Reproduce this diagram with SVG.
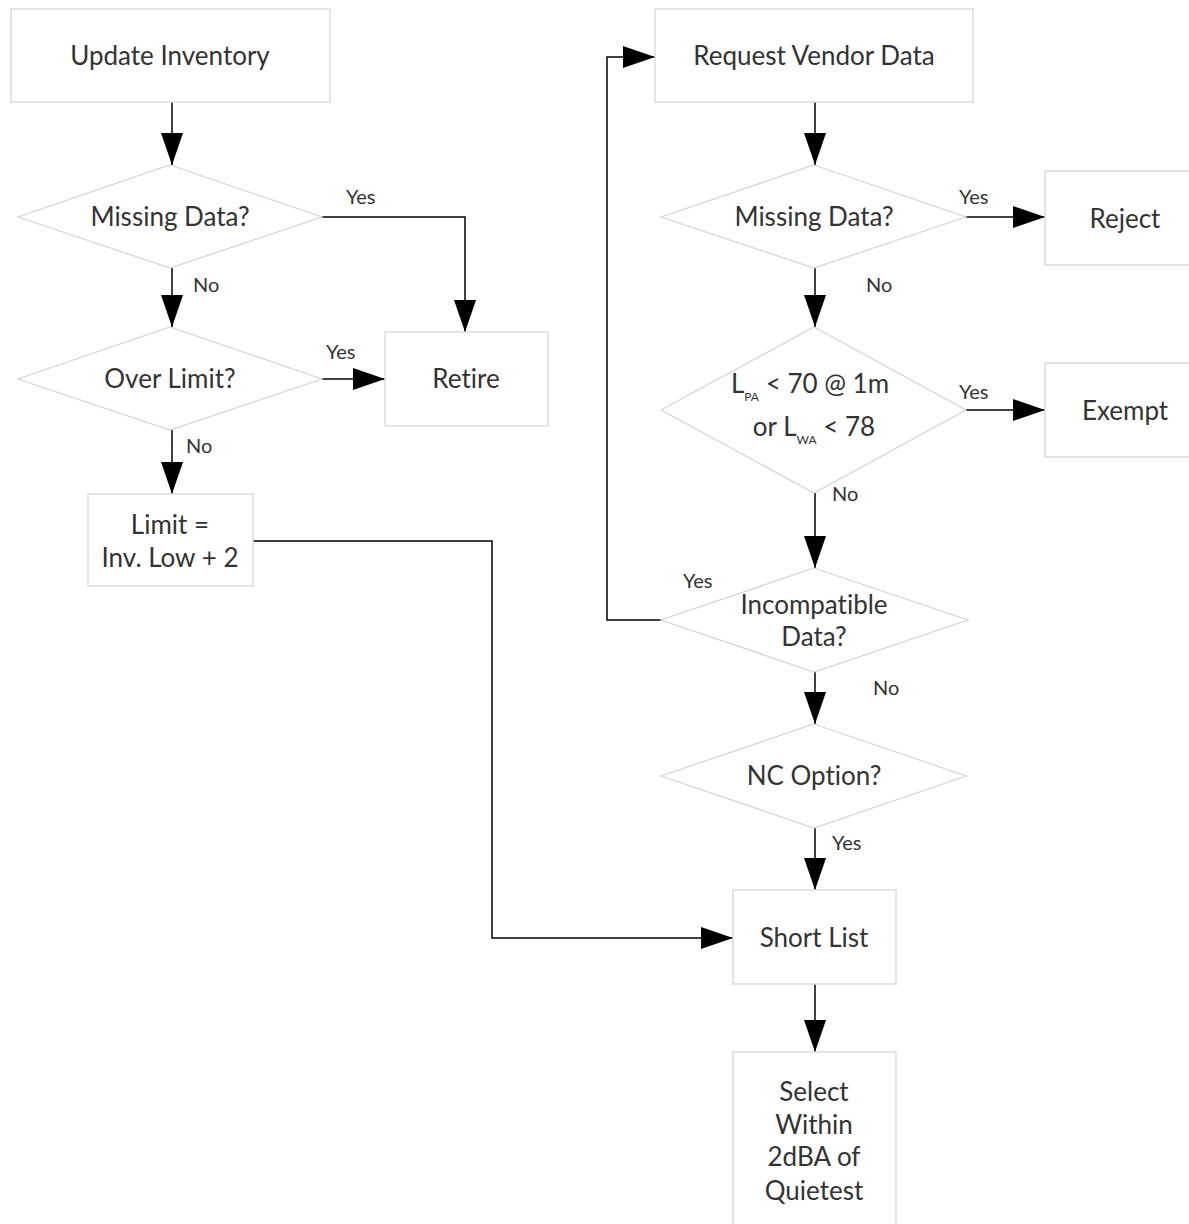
<svg xmlns="http://www.w3.org/2000/svg" width="1189" height="1224" viewBox="0 0 1189 1224">
<defs>
<marker id="ah" markerUnits="userSpaceOnUse" markerWidth="32" markerHeight="22" refX="32" refY="11" orient="auto">
<path d="M0,0 L32,11 L0,22 z" fill="#000"/>
</marker>
<style>
.box{fill:#fff;stroke:#dcdcdc;stroke-width:1.5}
.dia{fill:#fff;stroke:#d4d4d4;stroke-width:1.2}
.t{font-family:Lato,"Open Sans","Liberation Sans",sans-serif;font-size:26px;fill:#333;text-anchor:middle;font-variant-ligatures:none}
.l{font-family:Lato,"Open Sans","Liberation Sans",sans-serif;font-size:20px;fill:#333}
.c{fill:none;stroke:#000;stroke-width:1.5}
.ca{fill:none;stroke:#000;stroke-width:1.5;marker-end:url(#ah)}
</style>
</defs>
<rect width="1189" height="1224" fill="#fff"/>
<g id="connectors">
<line class="ca" x1="172" y1="102" x2="172" y2="165"/>
<polyline class="ca" points="322,217 465,217 465,332"/>
<line class="ca" x1="172" y1="268" x2="172" y2="327"/>
<line class="ca" x1="322" y1="379" x2="385" y2="379"/>
<line class="ca" x1="172" y1="430" x2="172" y2="494"/>
<polyline class="ca" points="253,541 492,541 492,938 733,938"/>
<line class="ca" x1="815" y1="102" x2="815" y2="165"/>
<line class="ca" x1="966" y1="217" x2="1045" y2="217"/>
<line class="ca" x1="815" y1="268" x2="815" y2="327"/>
<line class="ca" x1="966" y1="410" x2="1045" y2="410"/>
<line class="ca" x1="815" y1="493" x2="815" y2="568"/>
<polyline class="ca" points="661,620 607,620 607,57 655,57"/>
<line class="ca" x1="815" y1="672" x2="815" y2="724"/>
<line class="ca" x1="815" y1="828" x2="815" y2="890"/>
<line class="ca" x1="815" y1="984" x2="815" y2="1052"/>
<text class="l" x="346" y="204">Yes</text>
<text class="l" x="193" y="292">No</text>
<text class="l" x="326" y="359">Yes</text>
<text class="l" x="186" y="453">No</text>
<text class="l" x="959" y="204">Yes</text>
<text class="l" x="866" y="292">No</text>
<text class="l" x="959" y="399">Yes</text>
<text class="l" x="832" y="501">No</text>
<text class="l" x="683" y="588">Yes</text>
<text class="l" x="873" y="695">No</text>
<text class="l" x="832" y="850">Yes</text>
</g>
<g id="update-inventory">
<rect class="box" x="11" y="9" width="319" height="93"/>
<text class="t" x="170" y="65">Update Inventory</text>
</g>
<g id="missing-data-1">
<polygon class="dia" points="170,165 322,217 170,268 18,217"/>
<text class="t" x="170" y="226">Missing Data?</text>
</g>
<g id="retire">
<rect class="box" x="385" y="332" width="163" height="94"/>
<text class="t" x="466" y="388">Retire</text>
</g>
<g id="over-limit">
<polygon class="dia" points="170,327 322,379 170,430 18,379"/>
<text class="t" x="170" y="388">Over Limit?</text>
</g>
<g id="limit">
<rect class="box" x="88" y="494" width="165" height="92"/>
<text class="t" x="170" y="534">Limit =</text>
<text class="t" x="170" y="567">Inv. Low + 2</text>
</g>
<g id="request-vendor-data">
<rect class="box" x="655" y="9" width="318" height="93"/>
<text class="t" x="814" y="65">Request Vendor Data</text>
</g>
<g id="missing-data-2">
<polygon class="dia" points="814,165 966,217 814,268 661,217"/>
<text class="t" x="814" y="226">Missing Data?</text>
</g>
<g id="reject">
<rect class="box" x="1045" y="171" width="150" height="94"/>
<text class="t" x="1125" y="228">Reject</text>
</g>
<g id="level-check">
<polygon class="dia" points="814,327 966,410 814,493 661,410"/>
<text class="t" x="810" y="393">L<tspan font-size="12" dy="8">PA</tspan><tspan dy="-8"> &lt; 70 @ 1m</tspan></text>
<text class="t" x="814" y="436">or L<tspan font-size="12" dy="8">WA</tspan><tspan dy="-8"> &lt; 78</tspan></text>
</g>
<g id="exempt">
<rect class="box" x="1045" y="363" width="150" height="94"/>
<text class="t" x="1125" y="420">Exempt</text>
</g>
<g id="incompatible-data">
<polygon class="dia" points="814,568 968,620 814,672 661,620"/>
<text class="t" x="814" y="614">Incompatible</text>
<text class="t" x="814" y="646">Data?</text>
</g>
<g id="nc-option">
<polygon class="dia" points="814,724 966,776 814,828 661,776"/>
<text class="t" x="814" y="785">NC Option?</text>
</g>
<g id="short-list">
<rect class="box" x="733" y="890" width="163" height="94"/>
<text class="t" x="814" y="947">Short List</text>
</g>
<g id="select">
<rect class="box" x="733" y="1052" width="163" height="180"/>
<text class="t" x="814" y="1101">Select</text>
<text class="t" x="814" y="1134">Within</text>
<text class="t" x="814" y="1166">2dBA of</text>
<text class="t" x="814" y="1200">Quietest</text>
</g>
</svg>
